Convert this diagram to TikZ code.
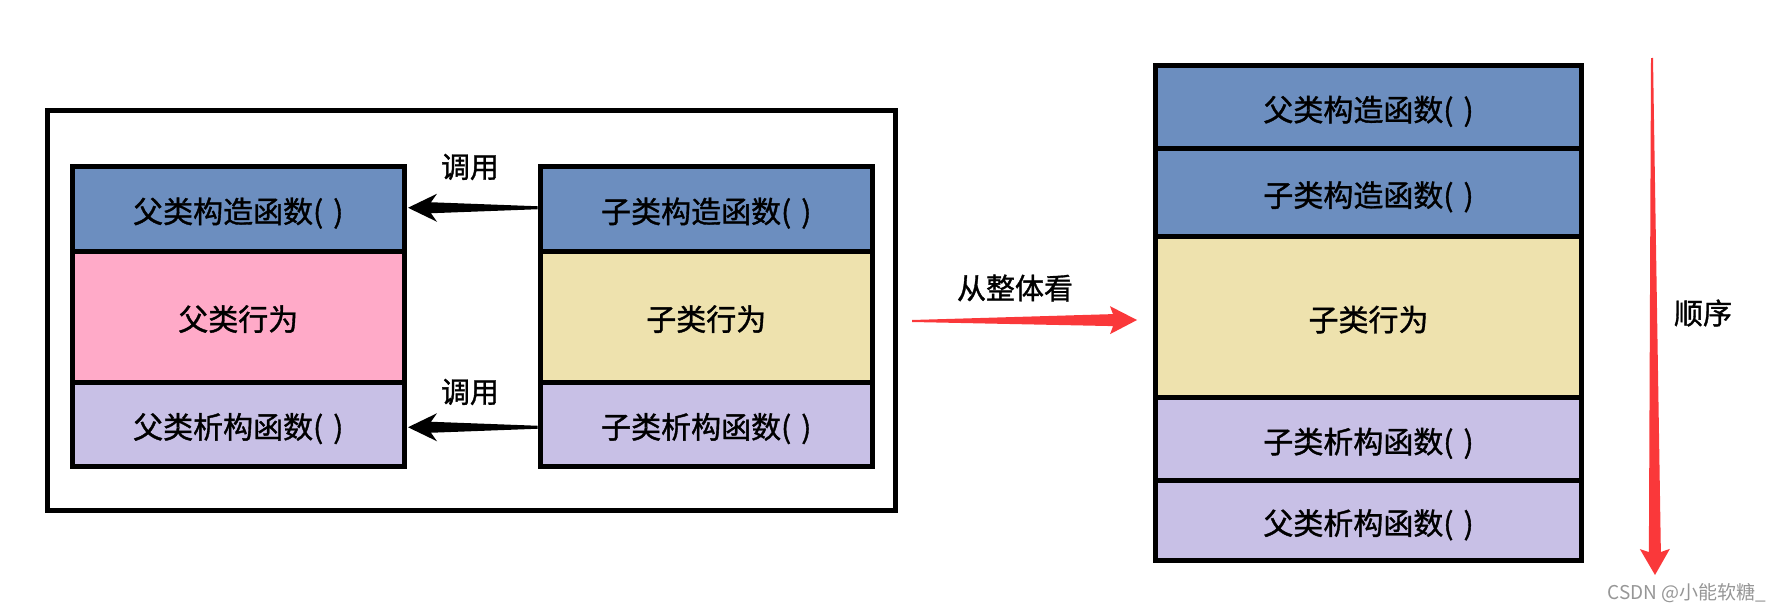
\documentclass[tikz,border=0pt]{standalone}
\usepackage{fontspec}
\newfontfamily\cjk[FakeBold=1.2]{Noto Sans CJK SC}
\newfontfamily\markfont{Noto Sans CJK SC}
\usetikzlibrary{calc,positioning}
\definecolor{ctorblue}{RGB}{108,142,191}
\definecolor{bodypink}{RGB}{255,170,200}
\definecolor{bodyyellow}{RGB}{238,226,174}
\definecolor{dtorpurple}{RGB}{200,192,230}
\definecolor{arrowred}{RGB}{250,56,58}
\definecolor{markgray}{RGB}{150,150,150}
\tikzset{
    every node/.style={font=\cjk\fontsize{30}{36}\selectfont},
    block/.style={draw,line width=5pt,rectangle,inner sep=0pt,outer sep=0pt,minimum width=331.5pt,text height=28pt,text depth=0pt},
    big block/.style={block,minimum width=426pt},
    label text/.style={font=\cjk\fontsize{29}{34}\selectfont}
}
% tail, tip, colour, tail half, neck half, head half, head length, neck length
\newcommand{\taper}[8]{%
  \coordinate (barb) at ($(#2)!#7!(#1)$);
  \coordinate (neck) at ($(#2)!#8!(#1)$);
  \fill[#3] ($(#1)!#4!90:(#2)$) -- ($(neck)!#5!90:(#2)$) -- ($(barb)!#6!90:(#2)$) -- (#2)
    -- ($(barb)!#6!-90:(#2)$) -- ($(neck)!#5!-90:(#2)$) -- ($(#1)!#4!-90:(#2)$) -- cycle;
}

\begin{document}
\begin{tikzpicture}[x=1pt,y=-1pt]
    \useasboundingbox (0,0) rectangle (1780,613);

        % left: parent and child objects
        \node[draw,line width=5pt,inner sep=0pt,outer sep=0pt,minimum width=848pt,minimum height=400pt,anchor=north west] (frame) at (47.5,110.5) {};
        \node[block,fill=ctorblue,minimum height=84.5pt,anchor=north west] (pctor) at (72.5,166.5) {父类构造函数(\,\,)};
        \node[block,fill=bodypink,minimum height=131pt] (pbody) [below =0pt of pctor] {父类行为};
        \node[block,fill=dtorpurple,minimum height=84.5pt] (pdtor) [below =0pt of pbody] {父类析构函数(\,\,)};
        \node[block,fill=ctorblue,minimum height=84.5pt,anchor=north west] (cctor) at (540.5,166.5) {子类构造函数(\,\,)};
        \node[block,fill=bodyyellow,minimum height=131pt] (cbody) [below =0pt of cctor] {子类行为};
        \node[block,fill=dtorpurple,minimum height=84.5pt] (cdtor) [below =0pt of cbody] {子类析构函数(\,\,)};

        \taper{$(cctor.west)+(-3,-1)$}{$(pctor.east)+(4,-1)$}{black}{1.5pt}{5.5pt}{14pt}{29pt}{23pt}
        \taper{$(cdtor.west)+(-3,3)$}{$(pdtor.east)+(4,3)$}{black}{1.5pt}{5.5pt}{14pt}{29pt}{23pt}
        \node[label text] (call1) at (470,167) {调用};
        \node[label text] (call2) at (470,392) {调用};

        % right: the whole order
        \node[big block,fill=ctorblue,minimum height=83pt,anchor=north west] (wpctor) at (1155.5,65.5) {父类构造函数(\,\,)};
        \node[big block,fill=ctorblue,minimum height=88pt] (wcctor) [below =0pt of wpctor] {子类构造函数(\,\,)};
        \node[big block,fill=bodyyellow,minimum height=161pt] (wcbody) [below =0pt of wcctor] {子类行为};
        \node[big block,fill=dtorpurple,minimum height=83pt] (wcdtor) [below =0pt of wcbody] {子类析构函数(\,\,)};
        \node[big block,fill=dtorpurple,minimum height=80pt] (wpdtor) [below =0pt of wcdtor] {父类析构函数(\,\,)};

        \coordinate (whole tail) at (912,321);
        \coordinate (whole tip) at (1137,320);
        \taper{whole tail}{whole tip}{arrowred}{1pt}{6pt}{14pt}{27pt}{24pt}
        \node[label text] (whole) at (1015,288) {从整体看};

        \coordinate (order top) at (1652,58);
        \coordinate (order tip) at (1655,575);
        \taper{order top}{order tip}{arrowred}{1pt}{6pt}{15pt}{26pt}{23pt}
        \node[label text] (order) at (1703,313) {顺序};

        \node[font=\markfont\fontsize{19}{22}\selectfont,text=markgray] (mark) at (1687,593) {CSDN @小能软糖\_};
      \end{tikzpicture}
\end{document}
